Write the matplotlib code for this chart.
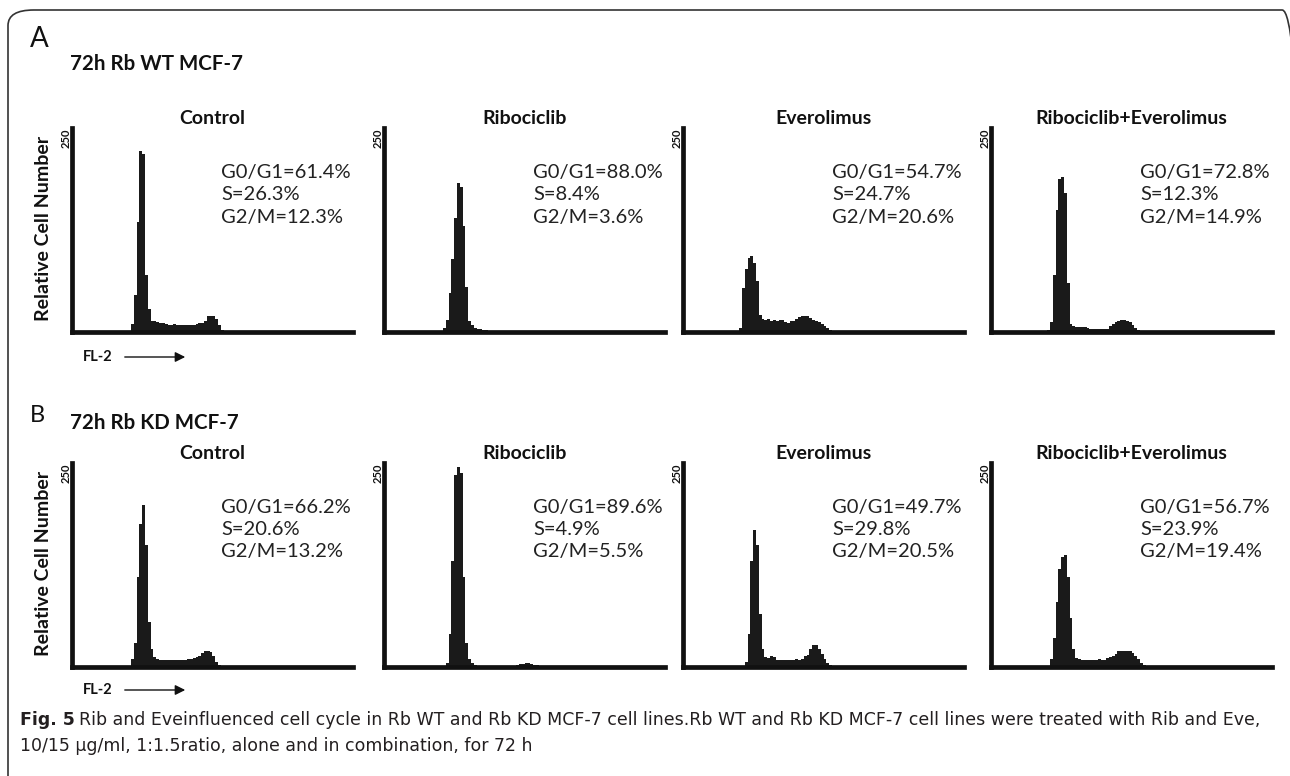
import matplotlib.pyplot as plt
from matplotlib.patches import FancyBboxPatch, FancyArrowPatch

# Histogramas de citometria (FL-2), contagens; canal 0-100
wt_control_start = 21
wt_control = [10, 45, 135, 222, 218, 70, 28, 14, 13, 12, 11, 11, 10, 9, 9, 10, 8, 8,
              9, 8, 8, 8, 9, 10, 11, 11, 14, 19, 20, 19, 16, 8, 3]
wt_ribo_start = 21
wt_ribo = [5, 15, 48, 90, 140, 183, 178, 130, 55, 14, 8, 5, 4, 4, 3, 2]
wt_evero_start = 20
wt_evero = [5, 54, 77, 91, 93, 85, 62, 21, 16, 15, 16, 14, 15, 14, 15, 15, 12, 11,
            13, 14, 16, 18, 19, 20, 19, 17, 15, 13, 12, 10, 7, 5, 3, 1]
wt_combo_start = 20
wt_combo = [3, 12, 70, 150, 188, 190, 170, 60, 10, 7, 6, 6, 6, 6, 5, 4, 4, 4, 4, 4,
            4, 4, 7, 10, 12, 14, 15, 15, 14, 12, 9, 5, 2]

kd_control_start = 21
kd_control = [10, 30, 110, 175, 198, 150, 55, 22, 12, 10, 9, 9, 9, 9, 8, 9, 8, 8, 8,
              9, 10, 10, 11, 12, 14, 17, 19, 19, 18, 14, 6, 3]
kd_ribo_start = 22
kd_ribo = [5, 40, 130, 235, 245, 238, 110, 30, 10, 5, 3, 0, 0, 0, 0, 0, 0, 0, 0, 0,
           0, 0, 0, 0, 0, 3, 4, 4, 5, 5, 4, 3, 2]
kd_evero_start = 22
kd_evero = [6, 40, 130, 168, 150, 65, 22, 12, 11, 13, 12, 9, 8, 8, 8, 8, 8, 9, 10,
            9, 10, 14, 15, 22, 27, 27, 22, 16, 10, 5, 2]
kd_combo_start = 21
kd_combo = [10, 35, 80, 120, 135, 137, 110, 60, 22, 11, 10, 9, 8, 9, 8, 8, 9, 10, 9,
            9, 11, 12, 14, 16, 19, 20, 19, 20, 20, 17, 14, 10, 5, 2]

treatments = ['Control', 'Ribociclib', 'Everolimus', 'Ribociclib+Everolimus']
wt_stats = [('61.4', '26.3', '12.3'), ('88.0', '8.4', '3.6'),
            ('54.7', '24.7', '20.6'), ('72.8', '12.3', '14.9')]
kd_stats = [('66.2', '20.6', '13.2'), ('89.6', '4.9', '5.5'),
            ('49.7', '29.8', '20.5'), ('56.7', '23.9', '19.4')]

W, H = 1290, 776
fig = plt.figure(figsize=(W / 100, H / 100), dpi=100)
FONT = 'Lato'
ink = '#111111'

# moldura arredondada
box = FancyBboxPatch((8 / W, 1 - 800 / H), 1300 / W, 790 / H,
                     boxstyle='round,pad=0,rounding_size=0.02',
                     transform=fig.transFigure, fill=False, edgecolor='#333333',
                     linewidth=1.2, clip_on=False)
fig.patches.append(box)

col_left = [72, 384, 683, 991]
col_w = 281
rows = [
    dict(letter='A', lsize=20, ly=39, head='72h Rb WT MCF-7', hy=64, top=128,
         data=[(wt_control_start, wt_control), (wt_ribo_start, wt_ribo),
               (wt_evero_start, wt_evero), (wt_combo_start, wt_combo)],
         stats=wt_stats, fl=357),
    dict(letter='B', lsize=17, ly=415, head='72h Rb KD MCF-7', hy=423, top=463,
         data=[(kd_control_start, kd_control), (kd_ribo_start, kd_ribo),
               (kd_evero_start, kd_evero), (kd_combo_start, kd_combo)],
         stats=kd_stats, fl=690),
]
ax_h = 204

for r in rows:
    fig.text(30 / W, 1 - r['ly'] / H, r['letter'], fontsize=r['lsize'],
             family=FONT, va='center', ha='left', color=ink)
    fig.text(70 / W, 1 - r['hy'] / H, r['head'], fontsize=14.8, family=FONT,
             weight='bold', va='center', ha='left', color=ink)
    fig.text(44 / W, 1 - (r['top'] + ax_h / 2 - 2) / H, 'Relative Cell Number',
             rotation=90, fontsize=14, family=FONT, weight='bold',
             va='center', ha='center', color=ink)
    for i, (start, counts) in enumerate(r['data']):
        ax = fig.add_axes([col_left[i] / W, 1 - (r['top'] + ax_h) / H,
                           col_w / W, ax_h / H])
        chans = list(range(start, start + len(counts)))
        ax.bar(chans, counts, width=1.0, align='edge', color='#1a1a1a',
               linewidth=0)
        ax.set_xlim(0, 100)
        ax.set_ylim(0, 250)
        for s in ['top', 'right']:
            ax.spines[s].set_visible(False)
        for s in ['left', 'bottom']:
            ax.spines[s].set_linewidth(3.4)
            ax.spines[s].set_color(ink)
        ax.set_xticks([])
        ax.set_yticks([])
        ax.patch.set_alpha(0)
        ax.set_title(treatments[i], fontsize=14, family=FONT, weight='bold',
                     pad=3, color=ink)
        ax.text(-0.022, 1.0, '250', rotation=90, fontsize=8, family=FONT,
                weight='bold', ha='center', va='top', transform=ax.transAxes,
                color=ink)
        g1, s, g2 = r['stats'][i]
        lines = ['G0/G1=%s%%' % g1, 'S=%s%%' % s, 'G2/M=%s%%' % g2]
        for k, line in enumerate(lines):
            ax.text(0.53, 1 - (44 + 22.5 * k) / ax_h, line, fontsize=14.5,
                    family=FONT, ha='left', va='center',
                    transform=ax.transAxes, color='#222222')
    fig.text(83 / W, 1 - r['fl'] / H, 'FL-2', fontsize=10.5, family=FONT,
             weight='bold', va='center', ha='left', color=ink)
    fig.patches.append(FancyArrowPatch(
        (122 / W, 1 - r['fl'] / H), (188 / W, 1 - r['fl'] / H),
        transform=fig.transFigure, arrowstyle='-|>,head_length=6,head_width=3',
        color=ink, linewidth=1.0, mutation_scale=1))

# legenda
cap_font = ['DejaVu Sans']
t = fig.text(20 / W, 1 - 720 / H, 'Fig. 5', fontsize=12.5, family=cap_font,
             weight='bold', va='center', ha='left', color='#231f20')
fig.canvas.draw()
bb = t.get_window_extent()
fig.text((bb.x1 + 4) / W, 1 - 720 / H,
         'Rib and Eveinfluenced cell cycle in Rb WT and Rb KD MCF-7 cell lines.'
         'Rb WT and Rb KD MCF-7 cell lines were treated with Rib and Eve,',
         fontsize=12.5, family=cap_font, va='center', ha='left', color='#231f20')
fig.text(20 / W, 1 - 746 / H,
         '10/15 \u03bcg/ml, 1:1.5ratio, alone and in combination, for 72 h',
         fontsize=12.5, family=cap_font, va='center', ha='left', color='#231f20')

plt.savefig('out.png', dpi=100)
